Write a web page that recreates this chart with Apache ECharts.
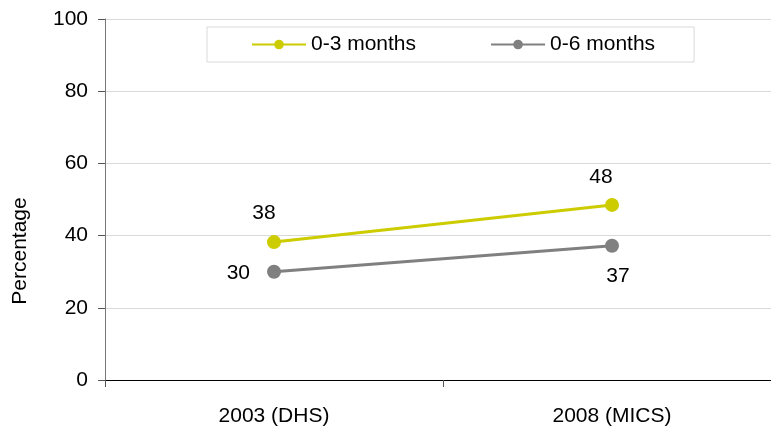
<!DOCTYPE html>
<html><head><meta charset="utf-8">
<script src="https://cdn.jsdelivr.net/npm/echarts@6/dist/echarts.min.js"></script>
<style>html,body{margin:0;padding:0;background:#fff;overflow:hidden;width:771px;height:429px}#c{width:782px;height:429px}</style>
</head><body><div id="c"></div>
<script>
const categories = ['2003 (DHS)', '2008 (MICS)'];
const seriesNames = ['0-3 months', '0-6 months'];
const values03 = [38.2, 48.5];
const values06 = [30.0, 37.2];
const labels03 = ['38', '48'];
const labels06 = ['30', '37'];
const yTicks = [0, 20, 40, 60, 80, 100];

const font = 'Liberation Sans, Arial, sans-serif';
const FS = 21;
const chart = echarts.init(document.getElementById('c'));
function lbl(text, pos, off){ return {show:true, formatter:text, position:pos, offset:off, fontSize:FS, color:'#000', fontFamily:font}; }
chart.setOption({
  animation:false,
  grid:{left:105, top:19, right:1, bottom:49, containLabel:false},
  legend:{
    left:207, top:27, itemWidth:54, itemHeight:12, itemGap:74,
    padding:[7,39,7,44], borderColor:'#d9d9d9', borderWidth:1,
    textStyle:{fontSize:FS, color:'#000', fontFamily:font},
    data:seriesNames
  },
  xAxis:{
    type:'category', data:categories, boundaryGap:true,
    axisLine:{lineStyle:{color:'#000', width:1}},
    axisTick:{show:true, length:7, lineStyle:{color:'#555'}},
    axisLabel:{fontSize:FS, color:'#000', fontFamily:font, margin:26}
  },
  yAxis:{
    type:'value', min:0, max:100, interval:20,
    axisLine:{show:true, lineStyle:{color:'#777', width:1}},
    axisTick:{show:true, inside:false, length:7, lineStyle:{color:'#555'}},
    axisLabel:{fontSize:FS, color:'#000', fontFamily:font, margin:17,
      formatter:v=> yTicks.includes(v) ? String(v) : ''},
    splitLine:{lineStyle:{color:'#d9d9d9', width:1}}
  },
  graphic:[{type:'text', x:20, y:251, rotation:Math.PI/2,
    style:{text:'Percentage', font:FS+'px Liberation Sans, Arial, sans-serif', fill:'#000', align:'center', verticalAlign:'middle'}}],
  series:[
    {name:seriesNames[0], type:'line', symbol:'circle', symbolSize:14,
     color:'#cccc00', lineStyle:{width:3, color:'#cccc00'},
     data:[
       {value:values03[0], label:lbl(labels03[0],'top',[-10,-6])},
       {value:values03[1], label:lbl(labels03[1],'top',[-11,-5])}
     ]},
    {name:seriesNames[1], type:'line', symbol:'circle', symbolSize:14,
     color:'#808080', lineStyle:{width:3, color:'#808080'},
     data:[
       {value:values06[0], label:lbl(labels06[0],'left',[-12,2])},
       {value:values06[1], label:lbl(labels06[1],'bottom',[6,8])}
     ]}
  ]
});
</script></body></html>
